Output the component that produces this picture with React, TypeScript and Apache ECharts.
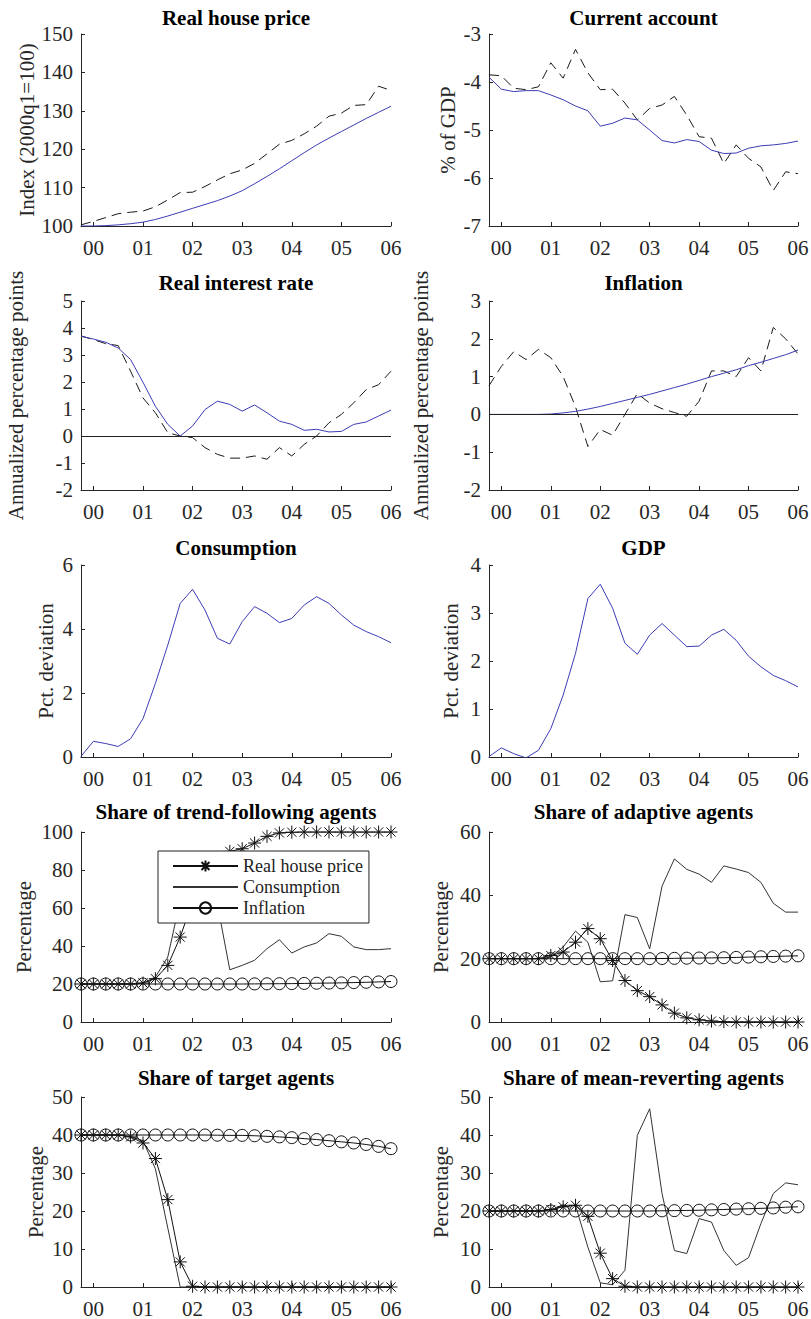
import React, { useEffect, useRef } from "react";
import * as echarts from "echarts";

// Quarterly observations, 1999Q4 .. 2006Q1
const QUARTERS = [
  "1999Q4", "2000Q1", "2000Q2", "2000Q3", "2000Q4",
  "2001Q1", "2001Q2", "2001Q3", "2001Q4",
  "2002Q1", "2002Q2", "2002Q3", "2002Q4",
  "2003Q1", "2003Q2", "2003Q3", "2003Q4",
  "2004Q1", "2004Q2", "2004Q3", "2004Q4",
  "2005Q1", "2005Q2", "2005Q3", "2005Q4",
  "2006Q1",
];

// Row 1
const HOUSE_MODEL = [100.0, 100.0, 100.1, 100.3, 100.6, 101.0, 101.7, 102.6, 103.6, 104.6, 105.6, 106.6, 107.8, 109.2, 111.0, 112.9, 114.9, 117.0, 119.1, 121.1, 122.9, 124.6, 126.3, 128.0, 129.6, 131.2];
const HOUSE_DATA = [100.3, 101.2, 102.2, 103.2, 103.6, 103.9, 105.0, 106.8, 108.7, 108.8, 110.3, 112.0, 113.6, 114.6, 116.3, 118.8, 121.3, 122.3, 124.0, 126.0, 128.6, 129.4, 131.4, 131.6, 136.4, 135.3];
const CA_MODEL = [-3.9, -4.15, -4.2, -4.18, -4.18, -4.27, -4.37, -4.5, -4.6, -4.92, -4.86, -4.75, -4.79, -5.0, -5.22, -5.27, -5.2, -5.24, -5.42, -5.49, -5.48, -5.38, -5.33, -5.31, -5.28, -5.23];
const CA_DATA = [-3.85, -3.87, -4.13, -4.16, -4.1, -3.6, -3.92, -3.32, -3.81, -4.16, -4.15, -4.44, -4.79, -4.55, -4.48, -4.3, -4.69, -5.14, -5.17, -5.7, -5.31, -5.59, -5.77, -6.26, -5.87, -5.91];

// Row 2
const RATE_MODEL = [3.69, 3.59, 3.47, 3.26, 2.83, 1.99, 1.1, 0.43, 0.0, 0.37, 0.98, 1.29, 1.17, 0.92, 1.15, 0.86, 0.55, 0.43, 0.21, 0.25, 0.15, 0.17, 0.43, 0.52, 0.74, 0.96];
const RATE_DATA = [3.71, 3.57, 3.42, 3.35, 2.4, 1.41, 0.86, 0.12, 0.0, -0.06, -0.43, -0.68, -0.82, -0.82, -0.74, -0.86, -0.43, -0.74, -0.31, 0.0, 0.49, 0.8, 1.23, 1.72, 1.9, 2.4];
const INFL_MODEL = [0, 0, 0, 0, 0, 0.01, 0.04, 0.08, 0.14, 0.21, 0.29, 0.37, 0.45, 0.53, 0.62, 0.71, 0.8, 0.9, 1.0, 1.09, 1.18, 1.29, 1.38, 1.48, 1.58, 1.7];
const INFL_DATA = [0.76, 1.27, 1.66, 1.45, 1.72, 1.5, 1.0, 0.2, -0.85, -0.4, -0.55, 0.0, 0.55, 0.3, 0.15, 0.05, -0.05, 0.35, 1.15, 1.15, 1.0, 1.5, 1.15, 2.3, 2.0, 1.6];

// Row 3
const CONS_MODEL = [0.02, 0.49, 0.42, 0.33, 0.57, 1.2, 2.3, 3.5, 4.8, 5.24, 4.59, 3.71, 3.53, 4.23, 4.7, 4.49, 4.2, 4.33, 4.75, 5.01, 4.8, 4.44, 4.12, 3.92, 3.76, 3.57];
const GDP_MODEL = [0.01, 0.19, 0.07, -0.02, 0.14, 0.59, 1.29, 2.16, 3.3, 3.6, 3.1, 2.37, 2.14, 2.54, 2.78, 2.54, 2.3, 2.31, 2.54, 2.66, 2.43, 2.1, 1.88, 1.7, 1.59, 1.46];

// Rows 4-5: agent shares (%) under each indicator
const TREND_HOUSE = [20, 20, 20, 20, 20, 20.5, 22.8, 29.8, 44.7, 63.5, 78.4, 86.7, 89.8, 91.2, 94.2, 97.7, 99.5, 99.9, 100, 100, 100, 100, 100, 100, 100, 100];
const TREND_CONS = [20, 20, 20, 20, 20, 20.5, 23.7, 34.2, 64, 86, 86, 62, 27.5, 29.8, 32.5, 38.6, 43.3, 36.3, 39.5, 41.6, 46.5, 45.1, 39.5, 38.1, 38.1, 38.6];
const TREND_INFL = [20, 20, 20, 20, 20, 20, 20, 20, 20, 20, 20, 20, 20, 20, 20.05, 20.1, 20.15, 20.2, 20.3, 20.4, 20.5, 20.6, 20.75, 20.9, 21.1, 21.3];

const ADAPT_HOUSE = [20, 20, 20, 20, 20, 21, 22.1, 25.2, 29.5, 26.3, 19.4, 13.1, 9.9, 8.0, 5.4, 2.8, 1.3, 0.7, 0.3, 0.1, 0, 0, 0, 0, 0, 0];
const ADAPT_CONS = [20, 20, 20, 20, 20, 20.5, 23.7, 28.7, 25.2, 12.7, 13, 33.9, 33, 23.1, 42.9, 51.5, 48.2, 46.7, 44.1, 49.3, 48.3, 47.2, 44.1, 37.5, 34.7, 34.7];
const ADAPT_INFL = [20, 20, 20, 20, 20, 20, 20, 20, 20, 20, 20, 20, 20, 20, 20.05, 20.1, 20.15, 20.2, 20.25, 20.3, 20.4, 20.5, 20.6, 20.7, 20.8, 20.9];

const TARGET_HOUSE = [40, 40, 40, 40, 39.5, 37.9, 33.8, 23, 6.6, 0.2, 0, 0, 0, 0, 0, 0, 0, 0, 0, 0, 0, 0, 0, 0, 0, 0];
const TARGET_CONS = [40, 40, 40, 40, 39.6, 38.5, 31.1, 15.5, 0, 0, 0, 0, 0, 0, 0, 0, 0, 0, 0, 0, 0, 0, 0, 0, 0, 0];
const TARGET_INFL = [40, 40, 40, 40, 40, 40, 40, 40, 40, 40, 40, 39.95, 39.9, 39.9, 39.8, 39.65, 39.5, 39.3, 39.05, 38.8, 38.5, 38.2, 37.9, 37.5, 37.0, 36.4];

const MR_HOUSE = [20, 20, 20, 20, 20, 20.4, 21.1, 21.5, 18.6, 8.9, 2.2, 0.2, 0, 0, 0, 0, 0, 0, 0, 0, 0, 0, 0, 0, 0, 0];
const MR_CONS = [20, 20, 20, 20, 20, 20.3, 21.5, 21.5, 10.5, 1.1, 0.6, 4.4, 39.9, 46.9, 24.6, 9.6, 8.8, 18, 17.1, 9.6, 5.7, 7.7, 16.7, 24.6, 27.4, 26.9];
const MR_INFL = [20, 20, 20, 20, 20, 20, 20, 20, 20, 20, 20, 20, 20, 20, 20.05, 20.1, 20.15, 20.2, 20.3, 20.4, 20.5, 20.6, 20.7, 20.8, 21.0, 21.1];

const LEGEND_NAMES = ["Real house price", "Consumption", "Inflation"];

// ---- presentation ----
const FONT = "'Liberation Serif', 'Times New Roman', 'DejaVu Serif', serif";
const INK = "#262626";
const BLUE = "#3c3cb4";
const ASTERISK = "path://M0,-10L0,10M-10,0L10,0M-7.07,-7.07L7.07,7.07M-7.07,7.07L7.07,-7.07";

const COL_LEFT = [81, 489];
const COL_W = [310, 309];
const ROW_TOP = [34, 301, 565, 832, 1097];
const ROW_H = [192, 189, 192, 190, 190];
const TITLE_OFF = [16.5, 18, 17, 20, 19];

type Kind = "model" | "data" | "house" | "cons" | "infl";

const PANELS: {
  title: string; yName: string; gap: number; min: number; max: number; step: number;
  zero?: boolean; lines: [Kind, string, number[]][];
}[] = [
  { title: "Real house price", yName: "Index (2000q1=100)", gap: 43, min: 100, max: 150, step: 10,
    lines: [["data", "Data", HOUSE_DATA], ["model", "Model", HOUSE_MODEL]] },
  { title: "Current account", yName: "% of GDP", gap: 31, min: -7, max: -3, step: 1,
    lines: [["data", "Data", CA_DATA], ["model", "Model", CA_MODEL]] },
  { title: "Real interest rate", yName: "Annualized percentage points", gap: 55, min: -2, max: 5, step: 1, zero: true,
    lines: [["data", "Data", RATE_DATA], ["model", "Model", RATE_MODEL]] },
  { title: "Inflation", yName: "Annualized percentage points", gap: 58, min: -2, max: 3, step: 1, zero: true,
    lines: [["data", "Data", INFL_DATA], ["model", "Model", INFL_MODEL]] },
  { title: "Consumption", yName: "Pct. deviation", gap: 25, min: 0, max: 6, step: 2,
    lines: [["model", "Model", CONS_MODEL]] },
  { title: "GDP", yName: "Pct. deviation", gap: 28, min: 0, max: 4, step: 1,
    lines: [["model", "Model", GDP_MODEL]] },
  { title: "Share of trend-following agents", yName: "Percentage", gap: 47, min: 0, max: 100, step: 20,
    lines: [["house", LEGEND_NAMES[0], TREND_HOUSE], ["cons", LEGEND_NAMES[1], TREND_CONS], ["infl", LEGEND_NAMES[2], TREND_INFL]] },
  { title: "Share of adaptive agents", yName: "Percentage", gap: 38, min: 0, max: 60, step: 20,
    lines: [["house", LEGEND_NAMES[0], ADAPT_HOUSE], ["cons", LEGEND_NAMES[1], ADAPT_CONS], ["infl", LEGEND_NAMES[2], ADAPT_INFL]] },
  { title: "Share of target agents", yName: "Percentage", gap: 35, min: 0, max: 50, step: 10,
    lines: [["house", LEGEND_NAMES[0], TARGET_HOUSE], ["cons", LEGEND_NAMES[1], TARGET_CONS], ["infl", LEGEND_NAMES[2], TARGET_INFL]] },
  { title: "Share of mean-reverting agents", yName: "Percentage", gap: 38, min: 0, max: 50, step: 10,
    lines: [["house", LEGEND_NAMES[0], MR_HOUSE], ["cons", LEGEND_NAMES[1], MR_CONS], ["infl", LEGEND_NAMES[2], MR_INFL]] },
];

function styleFor(kind: Kind): any {
  switch (kind) {
    case "model":
      return { symbol: "none", lineStyle: { color: BLUE, width: 1 }, itemStyle: { color: BLUE } };
    case "data":
      return { symbol: "none", lineStyle: { color: "#1a1a1a", width: 1, type: [10, 6] }, itemStyle: { color: "#1a1a1a" } };
    case "house":
      return {
        symbol: ASTERISK, symbolSize: 13, showSymbol: true, showAllSymbol: true,
        lineStyle: { color: "#111", width: 1 },
        itemStyle: { color: "#111", borderColor: "#111", borderWidth: 1 },
      };
    case "cons":
      return { symbol: "none", lineStyle: { color: "#333", width: 1 }, itemStyle: { color: "#333" } };
    case "infl":
      return {
        symbol: "circle", symbolSize: 12, showSymbol: true, showAllSymbol: true,
        lineStyle: { color: "#111", width: 1 },
        itemStyle: { color: "none", borderColor: "#111", borderWidth: 1 },
      };
  }
}

function buildOption() {
  const grid: any[] = [];
  const xAxis: any[] = [];
  const yAxis: any[] = [];
  const series: any[] = [];
  const graphic: any[] = [];
  const tickEvery = (i: number) => i % 4 === 1;

  PANELS.forEach((p, k) => {
    const row = Math.floor(k / 2);
    const col = k % 2;
    const left = COL_LEFT[col];
    const width = COL_W[col];
    const top = ROW_TOP[row];
    const height = ROW_H[row];
    grid.push({ left, top, width, height, containLabel: false, outerBoundsMode: "none" });
    xAxis.push({
      type: "category", gridIndex: k, data: QUARTERS, boundaryGap: false,
      axisLine: { show: true, onZero: false, lineStyle: { color: INK, width: 1 } },
      axisTick: { show: true, inside: true, length: 4, interval: tickEvery, lineStyle: { color: INK } },
      axisLabel: {
        show: true, interval: tickEvery, margin: 11,
        formatter: (v: string) => v.slice(2, 4),
        fontFamily: FONT, fontSize: 21, color: INK,
      },
      splitLine: { show: false },
    });
    yAxis.push({
      type: "value", gridIndex: k, min: p.min, max: p.max, interval: p.step,
      name: p.yName, nameLocation: "middle", nameGap: p.gap,
      nameTextStyle: { fontFamily: FONT, fontSize: 21, color: INK },
      axisLine: { show: true, onZero: false, lineStyle: { color: INK, width: 1 } },
      axisTick: { show: true, inside: true, length: 4, lineStyle: { color: INK } },
      axisLabel: { margin: 8, fontFamily: FONT, fontSize: 21, color: INK },
      splitLine: { show: false },
    });
    p.lines.forEach(([kind, name, data], j) => {
      const s: any = {
        type: "line", name, data, xAxisIndex: k, yAxisIndex: k,
        silent: true, animation: false, emphasis: { disabled: true },
        ...styleFor(kind),
      };
      if (p.zero && j === 0) {
        s.markLine = {
          silent: true, symbol: ["none", "none"], label: { show: false }, animation: false,
          lineStyle: { color: "#222", type: "solid", width: 1 },
          data: [{ yAxis: 0 }],
        };
      }
      series.push(s);
    });
    graphic.push({
      type: "text", x: left + width / 2, y: top - TITLE_OFF[row], silent: true,
      style: {
        text: p.title, font: `bold 21px ${FONT}`, fontFamily: FONT, fontSize: 21, fontWeight: "bold", fill: "#000",
        textAlign: "center", textVerticalAlign: "middle", align: "center", verticalAlign: "middle",
      },
    });
  });

  return {
    animation: false,
    backgroundColor: "#fff",
    textStyle: { fontFamily: FONT },
    grid, xAxis, yAxis, series, graphic,
    legend: {
      show: true,
      data: [
        { name: LEGEND_NAMES[0] },
        { name: LEGEND_NAMES[1], itemStyle: { opacity: 0 } },
        { name: LEGEND_NAMES[2] },
      ],
      orient: "vertical", left: 158, top: 851,
      itemWidth: 65, itemHeight: 14, itemGap: 3, padding: [6, 6, 6, 14],
      backgroundColor: "#fff", borderColor: "#222", borderWidth: 1, borderRadius: 0,
      selectedMode: false, z: 10,
      textStyle: { fontFamily: FONT, fontSize: 18, color: "#222", lineHeight: 18 },
    },
  };
}

export default function App() {
  const ref = useRef<HTMLDivElement>(null);
  useEffect(() => {
    if (!ref.current) return;
    const chart = echarts.init(ref.current, null, { renderer: "svg" });
    chart.setOption(buildOption() as any);
    return () => chart.dispose();
  }, []);
  return (
    <div
      ref={ref}
      style={{ position: "absolute", left: 0, top: 0, width: 811, height: 1319, background: "#fff" }}
    />
  );
}
